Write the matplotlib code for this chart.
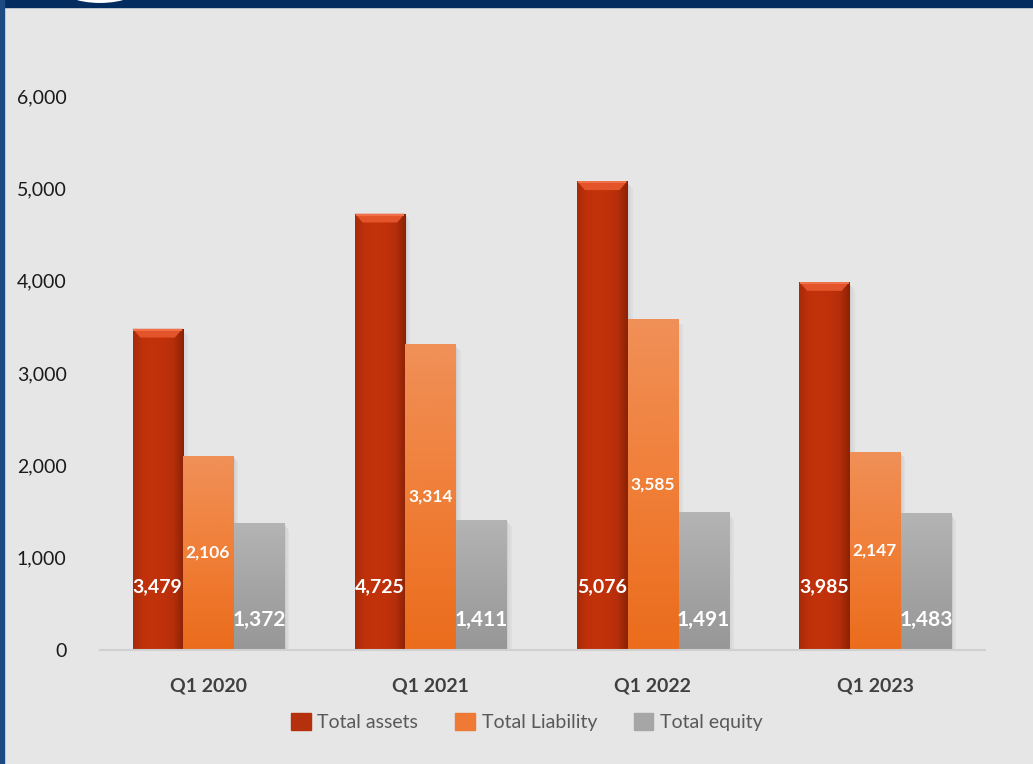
import matplotlib

matplotlib.use("Agg")
import matplotlib.pyplot as plt
import numpy as np
from matplotlib.colors import LinearSegmentedColormap
from matplotlib.patches import Ellipse, Polygon, Rectangle

quarters = ["Q1 2020", "Q1 2021", "Q1 2022", "Q1 2023"]
total_assets = [3479, 4725, 5076, 3985]
total_liability = [2106, 3314, 3585, 2147]
total_equity = [1372, 1411, 1491, 1483]
series_names = ["Total assets", "Total Liability", "Total equity"]

BG = "#e6e6e6"
NAVY = "#032d60"
FONT = ["Lato", "DejaVu Sans"]

plt.rcParams["font.family"] = FONT

fig = plt.figure(figsize=(10.33, 7.64), dpi=100, facecolor=BG)
ax = fig.add_axes([100 / 1033, 114 / 764, 885 / 1033, 554 / 764])
ax.set_facecolor(BG)

x = np.arange(len(quarters))
width = 0.225
offsets = [-0.227, 0.0, 0.229]


def fill_gradient(bar, colors, horizontal=False):
    """Paint a bar with a gradient image clipped to its rectangle."""
    cmap = LinearSegmentedColormap.from_list("g", colors)
    x0, y0 = bar.get_x(), bar.get_y()
    w, h = bar.get_width(), bar.get_height()
    if horizontal:
        grad = np.linspace(0, 1, 256).reshape(1, -1)
    else:
        grad = np.linspace(0, 1, 256).reshape(-1, 1)
    im = ax.imshow(grad, cmap=cmap, extent=(x0, x0 + w, y0, y0 + h),
                   origin="lower", aspect="auto", zorder=bar.get_zorder() + 0.1)
    im.set_clip_path(bar)


def add_shadow(bar):
    """Soft drop shadow on the right side of a bar."""
    x0, w, h = bar.get_x(), bar.get_width(), bar.get_height()
    for k, a in enumerate([0.10, 0.06, 0.03]):
        ax.add_patch(Rectangle((x0 + w + k * 0.008, 0), 0.008, h - 30 - k * 20,
                               color="black", alpha=a, lw=0, zorder=1))


asset_bars = ax.bar(x + offsets[0], total_assets, width, color="#c0310b", zorder=2)
liab_bars = ax.bar(x + offsets[1], total_liability, width, color="#ef7a35", zorder=2)
eq_bars = ax.bar(x + offsets[2], total_equity, width, color="#a8a8a8", zorder=2)

for bar in list(asset_bars) + list(liab_bars) + list(eq_bars):
    add_shadow(bar)

for bar in asset_bars:
    # bevelled look: darker sides and a bright cap on top
    fill_gradient(bar, ["#a82a08", "#c0310b", "#c2330c", "#c0310b", "#b52e0a",
                        "#8a2205"], horizontal=True)
    x0, w, top = bar.get_x(), bar.get_width(), bar.get_height()
    inset = 0.035
    cap = 95
    ax.add_patch(Polygon([(x0, top), (x0 + w, top), (x0 + w - inset, top - cap),
                          (x0 + inset, top - cap)], closed=True,
                         facecolor="#e4542a", edgecolor="none", zorder=3))
    ax.add_patch(Rectangle((x0 + 0.004, top - 22), w - 0.008, 22,
                           color="#f0704a", lw=0, zorder=3.1))

for bar in liab_bars:
    fill_gradient(bar, ["#eb6c1c", "#f07f38", "#f09058"])
for bar in eq_bars:
    fill_gradient(bar, ["#979797", "#a5a5a5", "#b4b4b4"])

label_kw = dict(ha="center", va="center", color="white", fontweight="bold",
                zorder=5)
for i in range(len(quarters)):
    ax.text(x[i] + offsets[0], 680, f"{total_assets[i]:,}", fontsize=14,
            **label_kw)
    ax.text(x[i] + offsets[1], total_liability[i] / 2, f"{total_liability[i]:,}",
            fontsize=12.5, **label_kw)
    ax.text(x[i] + offsets[2], 320, f"{total_equity[i]:,}", fontsize=15,
            **label_kw)

ax.set_ylim(0, 6000)
ax.set_xlim(-0.486, 3.495)
ax.set_yticks(range(0, 6001, 1000))
ax.set_yticklabels([f"{v:,}" for v in range(0, 6001, 1000)], fontsize=14,
                   color="#1a1a1a")
ax.set_xticks(x)
ax.set_xticklabels(quarters, fontsize=14, fontweight="bold", color="#404040")
ax.tick_params(axis="y", length=0, pad=24)
ax.tick_params(axis="x", length=0, pad=20)

for side in ["top", "right", "left"]:
    ax.spines[side].set_visible(False)
ax.spines["bottom"].set_color("#d0d0d0")
ax.spines["bottom"].set_linewidth(1.5)
ax.spines["bottom"].set_zorder(4)

handles = [Rectangle((0, 0), 1, 1, color=c) for c in ["#b5300c", "#ef7a35", "#a6a6a6"]]
fig.legend(handles, series_names, loc="center", bbox_to_anchor=(527 / 1033, 1 - 722 / 764),
           ncol=3, frameon=False, fontsize=14, labelcolor="#595959",
           handlelength=1.0, handleheight=1.0, handletextpad=0.35, columnspacing=1.9)

# navy frame: top band and left edge
fig.add_artist(Rectangle((0, 1 - 7 / 764), 1, 7 / 764, transform=fig.transFigure,
                         color=NAVY, zorder=10))
fig.add_artist(Rectangle((0, 0), 4 / 1033, 1, transform=fig.transFigure,
                         color="#1d4a80", zorder=10))
fig.add_artist(Ellipse((100 / 1033, 1 - (-14) / 764), 86 / 1033, 36 / 764,
                       transform=fig.transFigure, facecolor="white",
                       edgecolor=NAVY, lw=1.5, zorder=11))

fig.savefig("out.png", dpi=100, facecolor=BG)
plt.close(fig)
